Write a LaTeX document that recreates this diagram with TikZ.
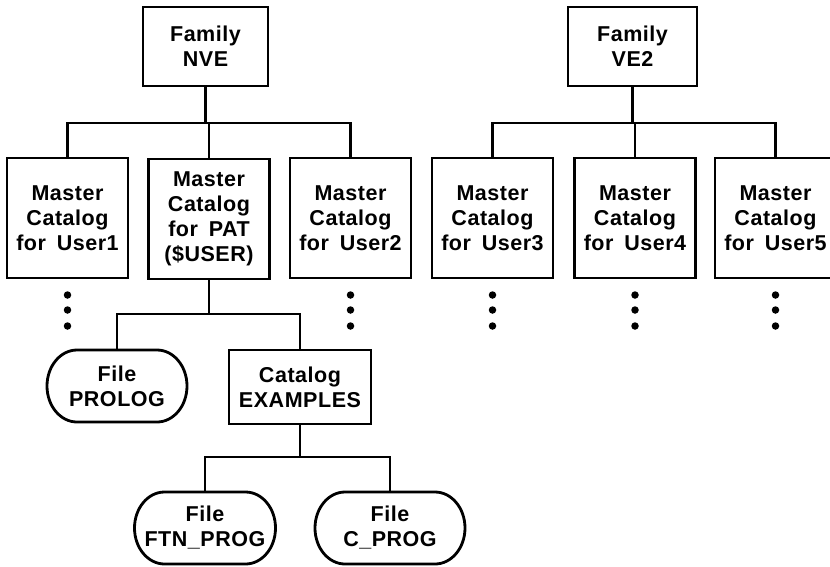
\documentclass[tikz,border=0pt]{standalone}
\usepackage{fontspec}
\setmainfont{Liberation Sans}[LetterSpace=2.5]
\newcommand\stadiumoutline[1]{%
  \draw[outline] ([xshift=30pt]#1.north west) -- ([xshift=-30pt]#1.north east)
    arc[start angle=90,end angle=-90,x radius=30pt,y radius=36pt]
    -- ([xshift=30pt]#1.south west)
    arc[start angle=270,end angle=90,x radius=30pt,y radius=36pt] -- cycle;}
\newcommand\gap{\hspace{0.5em}}
\begin{document}
\begin{tikzpicture}[x=1pt,y=-1pt,
  label text/.style={align=center,inner sep=0pt,outer sep=0pt,
    font=\fontsize{21.5}{25}\selectfont\bfseries},
  famnode/.style={label text,draw,line width=2.8pt,minimum height=79pt},
  masternode/.style={label text,draw,line width=2.8pt,minimum width=121pt,minimum height=120pt},
  catnode/.style={label text,draw,line width=2.8pt,minimum width=142pt,minimum height=74pt},
  filenode/.style={label text,minimum width=140pt,minimum height=72pt},
  outline/.style={line width=2.8pt},
  link/.style={line width=2.3pt},
  dot/.style={circle,fill,inner sep=0pt,minimum size=7.5pt}]
\clip (0,0) rectangle (830,566);
\useasboundingbox (0,0) rectangle (830,566);

% family roots
\node[famnode,minimum width=125pt] (nve) at (205.5,46.5) {Family\\NVE};
\node[famnode,minimum width=129pt] (ve2) at (632.5,46.5) {Family\\VE2};

% master catalogs
\node[masternode] (m1) at (67.5,218) {Master\\Catalog\\for\gap User1};
\node[masternode] (pat) at (209,219) {Master\\Catalog\\for\gap PAT\\(\$USER)};
\node[masternode] (m2) at (350.5,218) {Master\\Catalog\\for\gap User2};
\node[masternode] (m3) at (492.5,218) {Master\\Catalog\\for\gap User3};
\node[masternode] (m4) at (635,218) {Master\\Catalog\\for\gap User4};
\node[masternode] (m5) at (775.5,218) {Master\\Catalog\\for\gap User5};

% files and catalog under PAT
\node[filenode] (prolog) at (117,386) {File\\PROLOG};
\stadiumoutline{prolog}
\node[catnode] (examples) at (300,387) {Catalog\\EXAMPLES};
\node[filenode,minimum width=141pt] (ftn) at (205,528) {File\\FTN\_PROG};
\stadiumoutline{ftn}
\node[filenode,minimum width=150pt] (cprog) at (390,528) {File\\C\_PROG};
\stadiumoutline{cprog}

% tree connectors
\coordinate (busA) at (0,123);
\draw[link] (nve.south) -- (nve.south |- busA);
\draw[link] (m1.north) |- (busA -| nve.south) -| (m2.north);
\draw[link] (pat.north) -- (pat.north |- busA);
\draw[link] (ve2.south) -- (ve2.south |- busA);
\draw[link] (m3.north) |- (busA -| ve2.south) -| (m5.north);
\draw[link] (m4.north) -- (m4.north |- busA);

\coordinate (busB) at (0,314);
\draw[link] (prolog.north) |- (busB -| pat.south) -| (examples.north);
\draw[link] (pat.south) -- (pat.south |- busB);

\coordinate (busC) at (0,457);
\draw[link] (ftn.north) |- (busC -| examples.south) -| (cprog.north);
\draw[link] (examples.south) -- (examples.south |- busC);

% continuation dots
\foreach \m in {m1,m2,m3,m4,m5}{
  \node[dot] (\m d1) at ([yshift=-17pt]\m.south) {};
  \node[dot] (\m d2) at ([yshift=-32pt]\m.south) {};
  \node[dot] (\m d3) at ([yshift=-48pt]\m.south) {};
}
\end{tikzpicture}
\end{document}
